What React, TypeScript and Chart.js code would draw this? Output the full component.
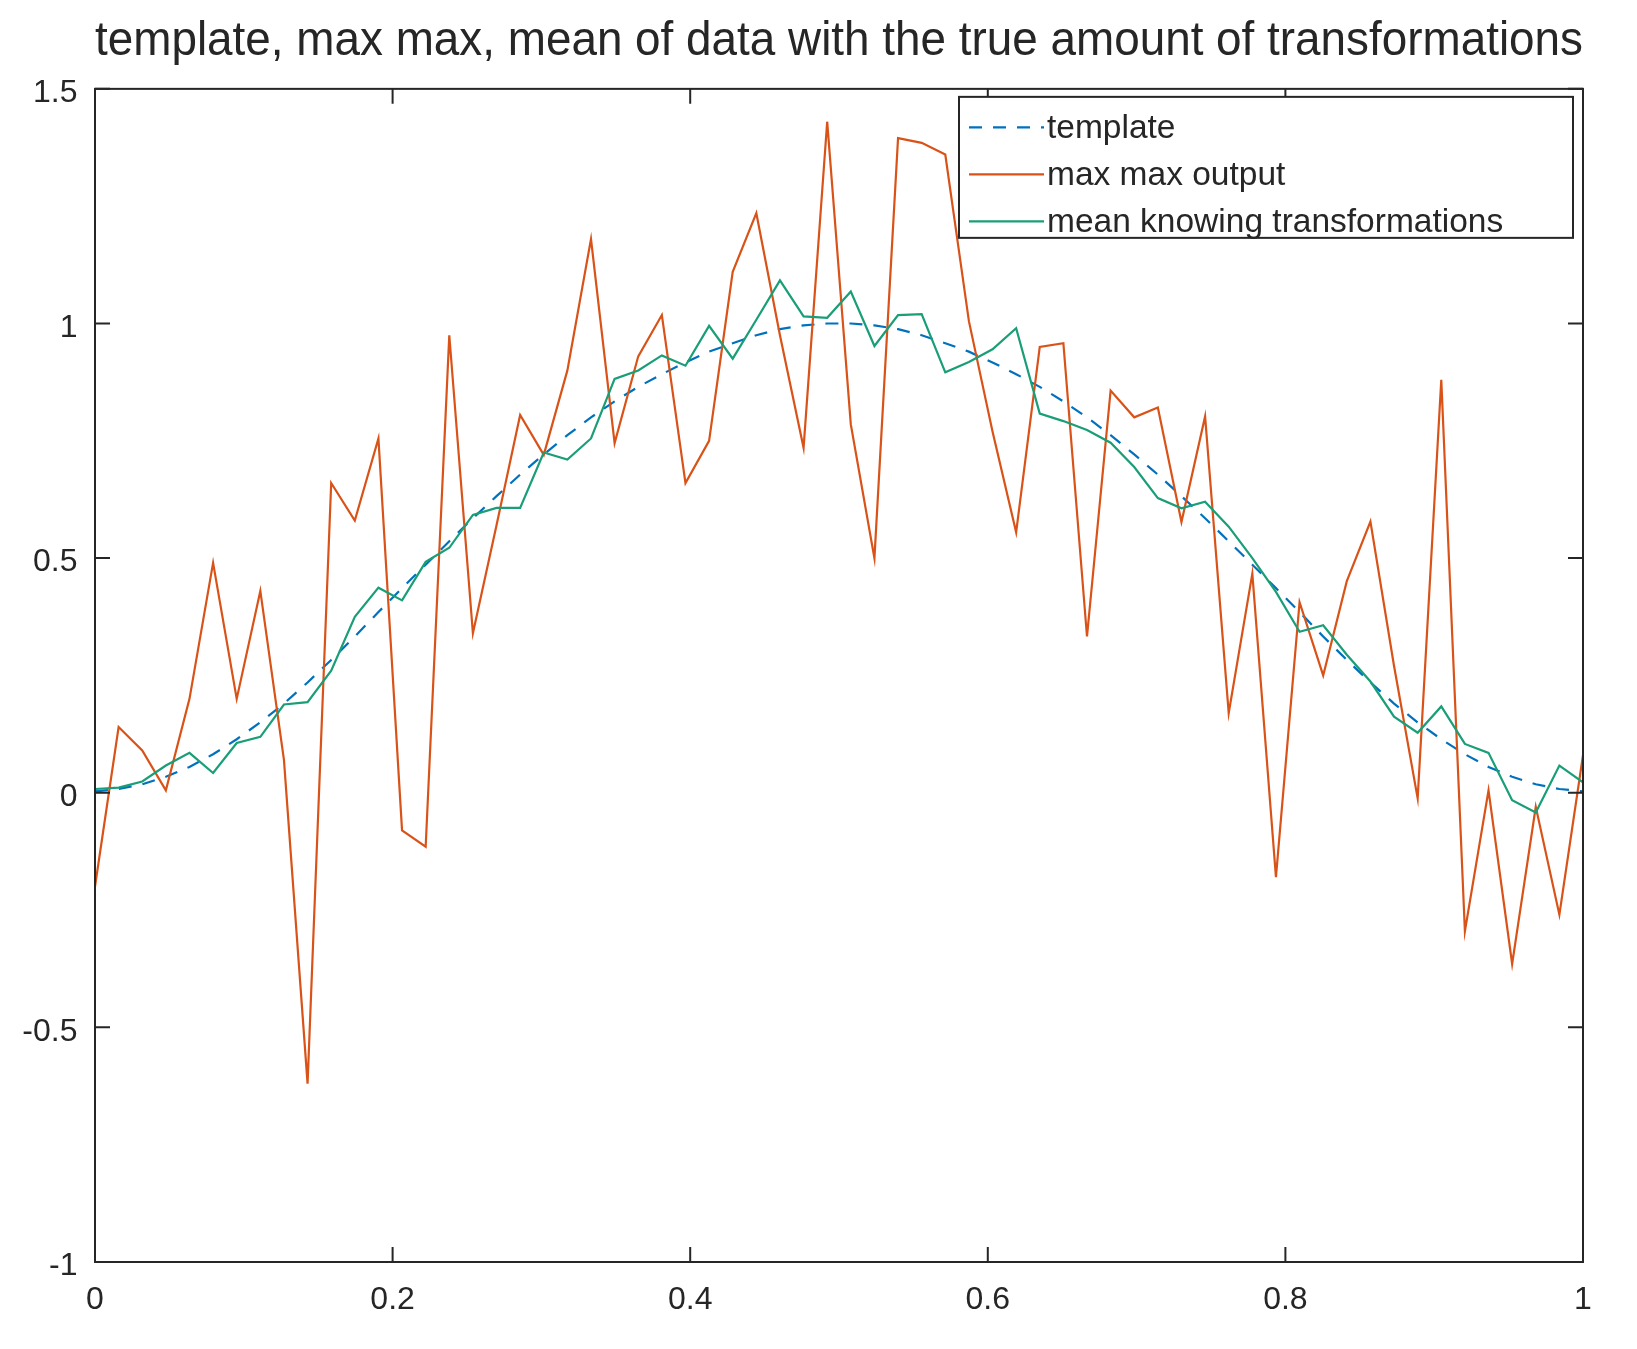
import { useEffect, useRef } from "react";
import { Chart, registerables, Plugin } from "chart.js";

Chart.register(...registerables);

const TITLE = "template, max max, mean of data with the true amount of transformations";
const SERIES_LABELS = ["template", "max max output", "mean knowing transformations"];
const X_TICKS = [0, 0.2, 0.4, 0.6, 0.8, 1];
const Y_TICKS = [-1, -0.5, 0, 0.5, 1, 1.5];

// 64 samples on [0, 1]
const SAMPLE_X = Array.from({ length: 64 }, (_, i) => i / 63);

const TEMPLATE = [
  0.003, 0.008, 0.018, 0.034, 0.055, 0.082, 0.114, 0.15, 0.19, 0.235, 0.283, 0.333, 0.385, 0.436, 0.486, 0.536,
  0.585, 0.632, 0.678, 0.721, 0.762, 0.8, 0.834, 0.865, 0.892, 0.917, 0.94, 0.958, 0.975, 0.988, 0.996, 1.0,
  1.0, 0.996, 0.988, 0.975, 0.958, 0.94, 0.917, 0.892, 0.865, 0.834, 0.8, 0.762, 0.721, 0.678, 0.632, 0.585,
  0.536, 0.486, 0.436, 0.385, 0.333, 0.283, 0.235, 0.19, 0.15, 0.114, 0.082, 0.055, 0.034, 0.018, 0.008, 0.003,
];

const MAX_MAX = [
  -0.2, 0.14, 0.09, 0.005, 0.2, 0.49, 0.2, 0.43, 0.07, -0.62, 0.66, 0.58, 0.755, -0.08, -0.115, 0.975,
  0.34, 0.57, 0.805, 0.72, 0.9, 1.18, 0.745, 0.93, 1.018, 0.66, 0.75, 1.11, 1.235, 0.975, 0.735, 1.43,
  0.785, 0.5, 1.395, 1.385, 1.36, 1.005, 0.77, 0.555, 0.95, 0.958, 0.333, 0.857, 0.8, 0.821, 0.577, 0.802,
  0.17, 0.467, -0.18, 0.406, 0.25, 0.451, 0.578, 0.27, -0.012, 0.88, -0.295, 0.005, -0.365, -0.03, -0.26, 0.08,
];

const MEAN_KNOWN = [
  0.008, 0.011, 0.024, 0.058, 0.085, 0.042, 0.106, 0.119, 0.188, 0.193, 0.26, 0.375, 0.437, 0.41, 0.492, 0.522,
  0.592, 0.607, 0.607, 0.725, 0.71, 0.755, 0.882, 0.9, 0.932, 0.91, 0.995, 0.925, 1.008, 1.092, 1.015, 1.012,
  1.068, 0.952, 1.018, 1.02, 0.896, 0.918, 0.945, 0.99, 0.808, 0.792, 0.773, 0.746, 0.694, 0.628, 0.606, 0.62,
  0.567, 0.5, 0.428, 0.343, 0.357, 0.294, 0.237, 0.162, 0.128, 0.184, 0.104, 0.085, -0.016, -0.042, 0.058, 0.022,
];

const COLORS = ["#0072bd", "#d95319", "#1a9e77"];
const INK = "#262626";
const FONT = "'Liberation Sans', Arial, Helvetica, sans-serif";

const toPoints = (ys: number[]) => SAMPLE_X.map((x, i) => ({ x, y: ys[i] }));

// box round the axes, inward ticks on all four sides, and the legend inside the top right
const framePlugin: Plugin<"line"> = {
  id: "frame",
  afterDraw(chart) {
    const { ctx, chartArea: a, scales } = chart;
    const tick = 15;
    ctx.save();
    ctx.strokeStyle = INK;
    ctx.lineWidth = 2;
    ctx.beginPath();
    X_TICKS.forEach((v) => {
      const px = scales.x.getPixelForValue(v);
      ctx.moveTo(px, a.bottom);
      ctx.lineTo(px, a.bottom - tick);
      ctx.moveTo(px, a.top);
      ctx.lineTo(px, a.top + tick);
    });
    Y_TICKS.forEach((v) => {
      const py = scales.y.getPixelForValue(v);
      ctx.moveTo(a.left, py);
      ctx.lineTo(a.left + tick, py);
      ctx.moveTo(a.right, py);
      ctx.lineTo(a.right - tick, py);
    });
    ctx.stroke();
    ctx.strokeRect(a.left, a.top, a.right - a.left, a.bottom - a.top);

    // legend
    const w = 614;
    const h = 141;
    const left = a.right - 10 - w;
    const top = a.top + 8;
    ctx.fillStyle = "#ffffff";
    ctx.fillRect(left, top, w, h);
    ctx.lineWidth = 2;
    ctx.strokeRect(left, top, w, h);
    ctx.font = `33.5px ${FONT}`;
    ctx.textBaseline = "middle";
    chart.data.datasets.forEach((ds, k) => {
      const y = top + 30.5 + k * 47;
      ctx.strokeStyle = ds.borderColor as string;
      ctx.lineWidth = 2.2;
      ctx.setLineDash((ds.borderDash as number[]) || []);
      ctx.beginPath();
      ctx.moveTo(left + 10, y);
      ctx.lineTo(left + 85, y);
      ctx.stroke();
      ctx.setLineDash([]);
      ctx.fillStyle = INK;
      ctx.fillText(ds.label || "", left + 88, y + 1);
    });
    ctx.restore();
  },
};

export default function App() {
  const canvasRef = useRef<HTMLCanvasElement>(null);
  const chartRef = useRef<Chart<"line"> | null>(null);

  useEffect(() => {
    if (!canvasRef.current) return;
    if (chartRef.current) chartRef.current.destroy();

    const tickFont = { family: FONT, size: 32 };

    chartRef.current = new Chart(canvasRef.current, {
      type: "line",
      data: {
        datasets: [
          {
            label: SERIES_LABELS[0],
            data: toPoints(TEMPLATE),
            borderColor: COLORS[0],
            borderWidth: 2.2,
            borderDash: [13, 11],
            pointRadius: 0,
            order: 3,
          },
          {
            label: SERIES_LABELS[1],
            data: toPoints(MAX_MAX),
            borderColor: COLORS[1],
            borderWidth: 2.2,
            pointRadius: 0,
            order: 2,
          },
          {
            label: SERIES_LABELS[2],
            data: toPoints(MEAN_KNOWN),
            borderColor: COLORS[2],
            borderWidth: 2.2,
            pointRadius: 0,
            order: 1,
          },
        ],
      },
      options: {
        animation: false,
        responsive: true,
        maintainAspectRatio: false,
        layout: { padding: { left: 0, right: 54, top: 0, bottom: 0 } },
        plugins: {
          legend: { display: false },
          tooltip: { enabled: false },
          title: {
            display: true,
            text: TITLE,
            color: INK,
            fullSize: false,
            font: { family: FONT, size: 47.8, weight: "normal" },
            padding: { top: 13, bottom: 18.5 },
          },
        },
        scales: {
          x: {
            type: "linear",
            min: 0,
            max: 1,
            afterBuildTicks: (s) => {
              s.ticks = X_TICKS.map((value) => ({ value }));
            },
            afterFit: (s) => {
              s.height = 87;
            },
            grid: { display: false, drawTicks: false },
            border: { display: false },
            ticks: {
              color: INK,
              font: tickFont,
              padding: 19,
              maxRotation: 0,
              autoSkip: false,
              callback: (v) => String(v),
            },
          },
          y: {
            type: "linear",
            min: -1,
            max: 1.5,
            afterBuildTicks: (s) => {
              s.ticks = Y_TICKS.map((value) => ({ value }));
            },
            afterFit: (s) => {
              s.width = 95;
            },
            grid: { display: false, drawTicks: false },
            border: { display: false },
            ticks: {
              color: INK,
              font: tickFont,
              padding: 17.5,
              labelOffset: 4.5,
              autoSkip: false,
              callback: (v) => String(v),
            },
          },
        },
      },
      plugins: [framePlugin],
    });

    return () => chartRef.current?.destroy();
  }, []);

  return (
    <div style={{ position: "absolute", left: 0, top: 0, width: 1637, height: 1349, background: "#ffffff" }}>
      <canvas ref={canvasRef} />
    </div>
  );
}
